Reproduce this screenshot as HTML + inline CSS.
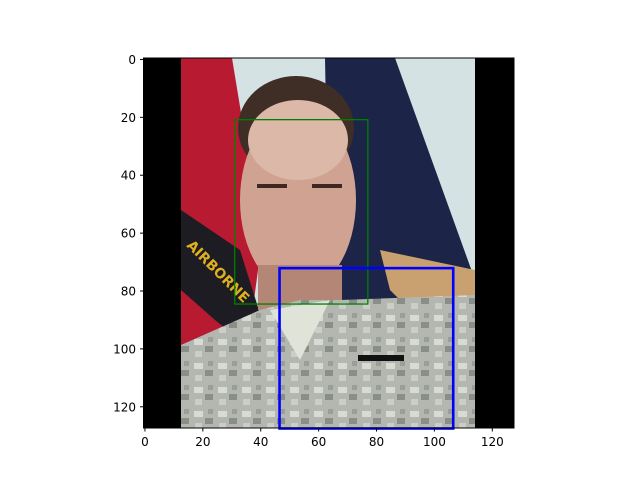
<!DOCTYPE html>
<html><head><meta charset="utf-8"><style>
body{margin:0;background:#fff;width:640px;height:480px;overflow:hidden}
text{font-family:"DejaVu Sans","Liberation Sans",sans-serif;font-size:12px;fill:#000}
</style></head><body>
<svg id="chart" width="640" height="480" xmlns="http://www.w3.org/2000/svg">
<defs><clipPath id="ph"><rect x="181" y="58" width="294" height="370"/></clipPath>
<pattern id="camo" width="24" height="24" patternUnits="userSpaceOnUse">
<rect width="24" height="24" fill="#b4b7b0"/><rect x="2" y="3" width="9" height="6" fill="#d8dad4"/><rect x="13" y="10" width="8" height="6" fill="#8a8e88"/><rect x="3" y="15" width="7" height="6" fill="#cbcec8"/><rect x="16" y="1" width="5" height="5" fill="#9a9e98"/></pattern>
</defs>
<g id="image">
<rect x="143.5" y="58" width="370.5" height="370" fill="#000"/>
<g clip-path="url(#ph)">
<rect x="181" y="58" width="294" height="370" fill="#d4e2e4"/>
<polygon points="181,58 232,58 262,240 250,330 181,330" fill="#b81a32"/>
<polygon points="325,58 395,58 475,280 475,330 330,330" fill="#1c2448"/>
<polygon points="181,210 240,250 262,320 230,360 181,380" fill="#1c1c22"/>
<polygon points="181,290 215,320 240,340 181,360" fill="#b81a32"/>
<polygon points="380,250 475,270 475,330 420,320 390,290" fill="#c9a070"/>
<ellipse cx="296" cy="128" rx="58" ry="52" fill="#3e2e26"/>
<ellipse cx="298" cy="200" rx="58" ry="92" fill="#cfa292"/>
<ellipse cx="298" cy="140" rx="50" ry="40" fill="#dcb8a8"/>
<rect x="258" y="265" width="84" height="45" fill="#b48676"/>
<rect x="257" y="184" width="30" height="4" fill="#402822"/>
<rect x="312" y="184" width="30" height="4" fill="#402822"/>
<polygon points="181,345 260,310 300,300 340,300 475,295 475,428 181,428" fill="url(#camo)"/>
<polygon points="270,310 330,300 300,360" fill="#e0e4d8"/>
<rect x="358" y="355" width="46" height="6" fill="#111"/>
<text x="186" y="246" transform="rotate(45 186 246)" style="fill:#e0b020;font-weight:bold;font-size:14px">AIRBORNE</text>
</g>
</g>
<g id="boxes"></g>
<rect x="143.5" y="58" width="370.5" height="370" fill="none" stroke="#000" stroke-width="1"/>
<g id="ticks"></g>
</svg>
<script>
const xTicks=[0,20,40,60,80,100,120];
const yTicks=[0,20,40,60,80,100,120];
const boxLabels=["face-box","body-box"];
const boxX0=[31.5,47];
const boxY0=[21.3,72.6];
const boxX1=[77.5,107];
const boxY1=[85,128];
const boxColors=["#008000","#0000ff"];
const boxWidths=[1.3,2.6];
const L=143.5,T=58,S=370.5/128;
const sx=v=>L+(v+0.5)*S, sy=v=>T+(v+0.5)*S;
const ns="http://www.w3.org/2000/svg";
const tg=document.getElementById('ticks'), bg=document.getElementById('boxes');
function mk(t,a,p){const e=document.createElementNS(ns,t);for(const k in a)e.setAttribute(k,a[k]);p.appendChild(e);return e;}
for(let i=0;i<boxX0.length;i++){
 const r=mk('rect',{x:sx(boxX0[i]-0.5),y:sy(boxY0[i]-0.5),width:(boxX1[i]-boxX0[i])*S,height:(boxY1[i]-boxY0[i])*S,fill:'none',stroke:boxColors[i],'stroke-width':boxWidths[i]},bg);
 
 
}
xTicks.forEach(v=>{const x=sx(v);
 const l=mk('line',{x1:x,x2:x,y1:428,y2:431.5,stroke:'#000'},tg);
 
 
 const t=mk('text',{x:x,y:446,'text-anchor':'middle'},tg);t.textContent=v;
 
 
});
yTicks.forEach(v=>{const y=sy(v);
 const l=mk('line',{x1:140,x2:143.5,y1:y,y2:y,stroke:'#000'},tg);
 
 
 const t=mk('text',{x:136,y:y+4.5,'text-anchor':'end'},tg);t.textContent=v;
 
 
});
</script>
</body></html>
